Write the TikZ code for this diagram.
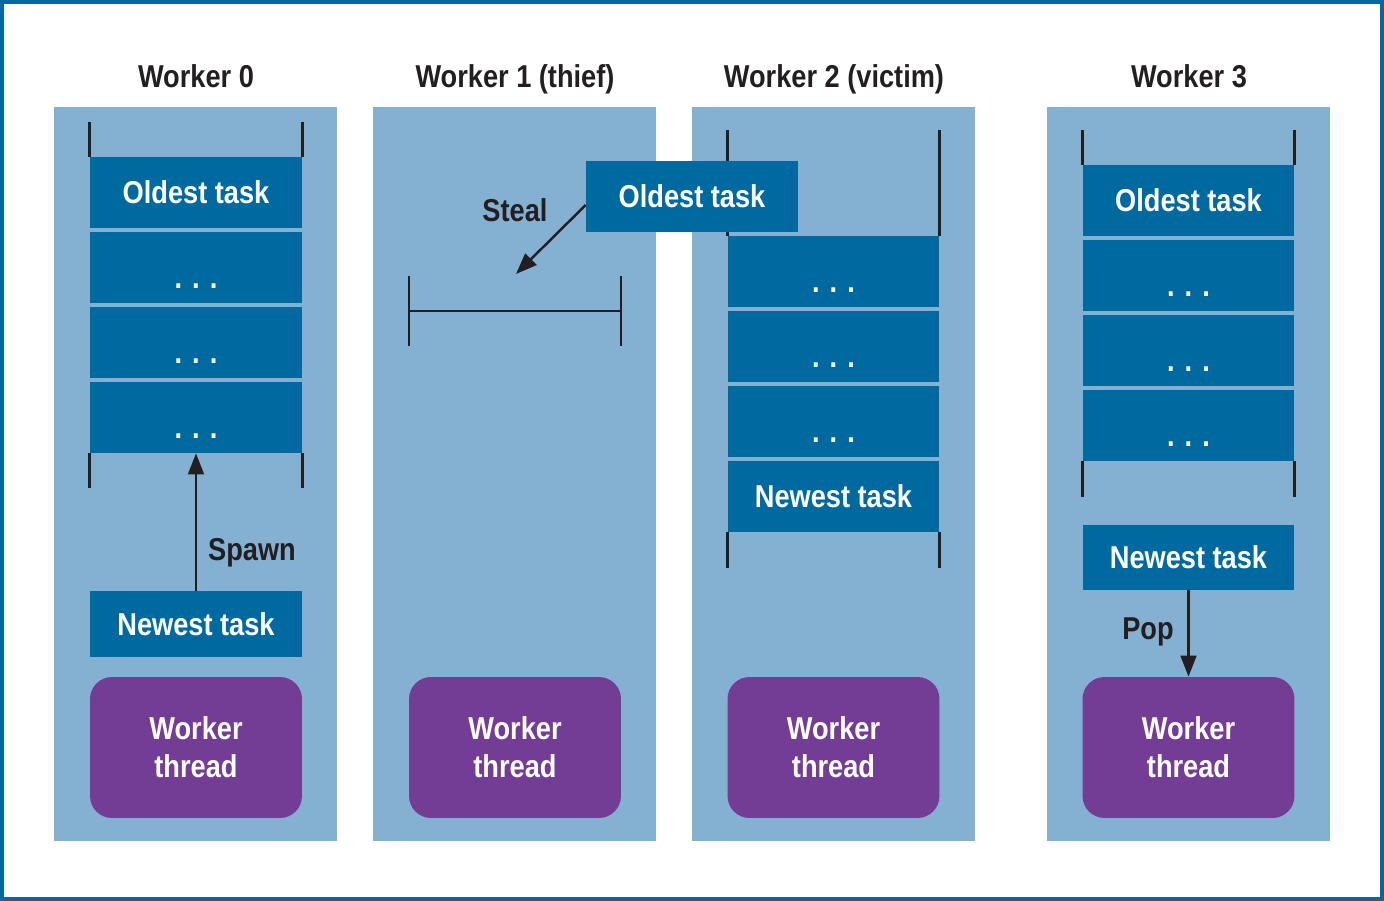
\documentclass[tikz,border=0pt]{standalone}
\usepackage{fontspec}
\setmainfont{Liberation Sans}[FakeStretch=0.86]
\usetikzlibrary{arrows.meta}
\definecolor{taskblue}{RGB}{0,105,160}
\definecolor{colblue}{RGB}{132,176,210}
\definecolor{threadpurple}{RGB}{115,61,150}
\definecolor{inkblack}{RGB}{35,31,32}
\newcommand{\boxfont}{\fontsize{18}{21.5}\selectfont\bfseries}
\tikzset{
	col/.style={fill=colblue, minimum width=5.66cm, minimum height=14.68cm, inner sep=0pt},
	task/.style={fill=taskblue, text=white, font=\boxfont, minimum width=4.24cm, minimum height=1.42cm, inner sep=0pt, text height=12.9pt, text depth=0pt},
	dots/.style={task, text height=24pt},
	thread/.style={fill=threadpurple, text=white, font=\boxfont, rounded corners=0.44cm, minimum width=4.24cm, minimum height=2.82cm, inner sep=0pt, align=center},
	title/.style={font=\boxfont, text=inkblack, inner sep=0pt, text height=12.9pt, text depth=0pt},
	bracket/.style={draw=inkblack, line width=1.7pt},
	link/.style={draw=inkblack, line width=1.4pt, -{Triangle[length=12pt,width=9pt]}}
}
\begin{document}
\begin{tikzpicture}[x=0.02cm, y=-0.02cm]
	\useasboundingbox (0,0) rectangle (1384,901);
	\draw[taskblue, line width=2.3pt] (2,2) rectangle (1382,899);
	\node[col] (c0) at (195.5,474) {};
	\node[col] (c1) at (514.5,474) {};
	\node[col] (c2) at (833.5,474) {};
	\node[col] (c3) at (1188.5,474) {};

	\node[title] (t0) at (196,76) {Worker 0};
	\node[task] (o0) at (196,192.5) {Oldest task};
	\node[dots] (d01) at (196,267.5) {. . .};
	\node[dots] (d02) at (196,342.5) {. . .};
	\node[dots] (d03) at (196,417.5) {. . .};
	\draw[bracket] (o0.north west) -- ++(0,-35);
	\draw[bracket] (o0.north east) -- ++(0,-35);
	\draw[bracket] (d03.south west) -- ++(0,35);
	\draw[bracket] (d03.south east) -- ++(0,35);
	\node[task, minimum height=1.32cm] (n0) at (196,624) {Newest task};
	\draw[link] (n0) -- (d03);
	\node[title] (spawn) at (252,549) {Spawn};
	\node[thread] (w0) at (196,747.5) {Worker\\thread};

	\node[title] (t1) at (515,76) {Worker 1 (thief)};
	\draw[bracket] (409,276) -- (409,346);
	\draw[bracket] (621,276) -- (621,346);
	\draw[bracket] (409,311) -- (621,311);
	\coordinate (s1) at (516,274);
	\node[title] (steal) at (515,210) {Steal};
	\node[thread] (w1) at (515,747.5) {Worker\\thread};

	\node[title] (t2) at (834,76) {Worker 2 (victim)};
	\node[dots] (d21) at (833.5,271.5) {. . .};
	\node[dots] (d22) at (833.5,346.5) {. . .};
	\node[dots] (d23) at (833.5,421.5) {. . .};
	\node[task] (n2) at (833.5,496.5) {Newest task};
	\draw[bracket] (d21.north west) -- ++(0,-106);
	\draw[bracket] (d21.north east) -- ++(0,-106);
	\draw[bracket] (n2.south west) -- ++(0,36);
	\draw[bracket] (n2.south east) -- ++(0,36);
	\node[thread] (w2) at (833.5,747.5) {Worker\\thread};

	\node[title] (t3) at (1189,76) {Worker 3};
	\node[task] (o3) at (1188.5,200.5) {Oldest task};
	\node[dots] (d31) at (1188.5,275.5) {. . .};
	\node[dots] (d32) at (1188.5,350.5) {. . .};
	\node[dots] (d33) at (1188.5,425.5) {. . .};
	\draw[bracket] (o3.north west) -- ++(0,-35);
	\draw[bracket] (o3.north east) -- ++(0,-35);
	\draw[bracket] (d33.south west) -- ++(0,36);
	\draw[bracket] (d33.south east) -- ++(0,36);
	\node[task, minimum height=1.3cm] (n3) at (1188.5,557.5) {Newest task};
	\node[thread] (w3) at (1188.5,747.5) {Worker\\thread};
	\draw[link] (n3) -- (w3);
	\node[title] (pop) at (1148,628) {Pop};

	\node[task] (o1) at (692,196.5) {Oldest task};
	\draw[link] ([yshift=-0.17cm]o1.west) -- (s1);
\end{tikzpicture}
\end{document}
